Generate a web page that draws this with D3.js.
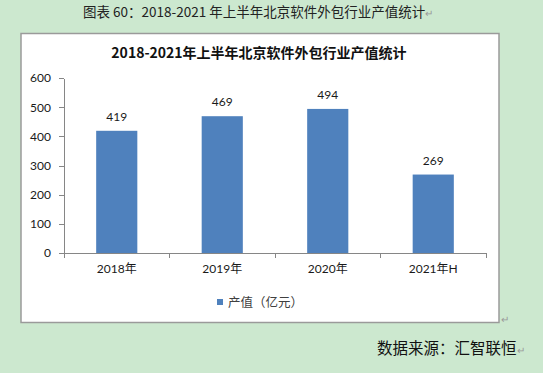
<!DOCTYPE html>
<html lang="zh">
<head>
  <meta charset="UTF-8">
  <title>2018-2021年上半年北京软件外包行业产值统计</title>
  <script src="https://d3js.org/d3.v7.min.js"></script>
  <style>
    body {
      margin: 0;
      background: #cce8cf;
      font-family: "Lato", "Noto Sans CJK SC", sans-serif;
    }
    .axis path,
    .axis line {
      stroke: #868686;
      shape-rendering: crispEdges;
    }
    .axis text {
      font-size: 12px;
      fill: #1a1a1a;
      font-family: "Lato", "Noto Sans CJK SC", sans-serif;
    }
    .cjk {
      font-family: "Noto Sans CJK SC", sans-serif;
    }
  </style>
</head>
<body>
  <svg width="543" height="373"></svg>

  <script>
    const width = 543;
    const height = 373;

    // Data
    const categories = ["2018年", "2019年", "2020年", "2021年H"];
    const values = [419, 469, 494, 269];
    const yTicks = [0, 100, 200, 300, 400, 500, 600];
    const seriesName = "产值（亿元）";

    const plot = { left: 64, right: 486, top: 78, bottom: 253 };

    const svg = d3.select("svg");

    // Page caption above the chart
    const caption = svg.append("text")
      .attr("x", 83)
      .attr("y", 17)
      .attr("class", "cjk")
      .style("font-size", "13.5px")
      .style("fill", "#222");
    caption.append("tspan").text("图表 60：2018-2021 年上半年北京软件外包行业产值统计");
    caption.append("tspan").style("fill", "#999").style("font-size", "10px").text("↵");

    // Chart frame
    svg.append("rect")
      .attr("x", 21)
      .attr("y", 33.5)
      .attr("width", 478)
      .attr("height", 289)
      .style("fill", "#fff")
      .style("stroke", "#9a9a9a")
      .style("stroke-width", 1.5);

    svg.append("text")
      .attr("x", 501)
      .attr("y", 323)
      .style("fill", "#999")
      .style("font-size", "10px")
      .text("↵");

    // Chart title
    svg.append("text")
      .attr("x", (plot.left + plot.right) / 2 - 16)
      .attr("y", 58)
      .attr("text-anchor", "middle")
      .attr("class", "cjk")
      .style("font-size", "14px")
      .style("font-weight", "bold")
      .style("fill", "#111")
      .text("2018-2021年上半年北京软件外包行业产值统计");

    // Scales
    const x = d3.scaleBand()
      .domain(categories)
      .range([plot.left, plot.right])
      .paddingInner(0.61)
      .paddingOuter(0.305);

    const y = d3.scaleLinear()
      .domain([0, 600])
      .range([plot.bottom, plot.top]);

    // Y axis
    svg.append("g")
      .attr("class", "axis")
      .attr("transform", `translate(${plot.left},0)`)
      .call(d3.axisLeft(y).tickValues(yTicks).tickSize(5).tickPadding(8).tickSizeOuter(0));

    // Bars
    svg.selectAll(".bar")
      .data(values)
      .join("rect")
      .attr("class", "bar")
      .attr("x", (d, i) => x(categories[i]))
      .attr("y", d => y(d))
      .attr("width", x.bandwidth())
      .attr("height", d => y(0) - y(d))
      .style("fill", "#4f81bd");

    // Value labels
    svg.selectAll(".value-label")
      .data(values)
      .join("text")
      .attr("class", "value-label")
      .attr("x", (d, i) => x(categories[i]) + x.bandwidth() / 2)
      .attr("y", d => y(d) - 10)
      .attr("text-anchor", "middle")
      .style("font-size", "12px")
      .style("fill", "#1a1a1a")
      .text(d => d);

    // X axis: line with ticks at category boundaries
    const boundary = d3.scaleLinear()
      .domain([0, categories.length])
      .range([plot.left, plot.right]);

    const xAxis = svg.append("g").attr("class", "axis");
    xAxis.append("line")
      .attr("x1", plot.left - 5)
      .attr("x2", plot.right)
      .attr("y1", plot.bottom)
      .attr("y2", plot.bottom);
    xAxis.selectAll(".btick")
      .data(d3.range(categories.length + 1))
      .join("line")
      .attr("class", "btick")
      .attr("x1", d => boundary(d))
      .attr("x2", d => boundary(d))
      .attr("y1", plot.bottom)
      .attr("y2", plot.bottom + 5);
    xAxis.selectAll(".xlabel")
      .data(categories)
      .join("text")
      .attr("class", "xlabel")
      .attr("x", d => x(d) + x.bandwidth() / 2)
      .attr("y", plot.bottom + 20)
      .attr("text-anchor", "middle")
      .text(d => d);

    // Legend
    const legend = svg.append("g").attr("transform", "translate(217,299)");
    legend.append("rect")
      .attr("width", 6)
      .attr("height", 6)
      .style("fill", "#4f81bd");
    legend.append("text")
      .attr("x", 11)
      .attr("y", 7.5)
      .attr("class", "cjk")
      .style("font-size", "12.5px")
      .style("fill", "#404040")
      .text(seriesName);

    // Source note
    const source = svg.append("text")
      .attr("x", 377)
      .attr("y", 354)
      .attr("class", "cjk")
      .style("font-size", "15.5px")
      .style("fill", "#111");
    source.append("tspan").text("数据来源：汇智联恒");
    source.append("tspan").style("fill", "#999").style("font-size", "10px").text("↵");
  </script>
</body>
</html>
